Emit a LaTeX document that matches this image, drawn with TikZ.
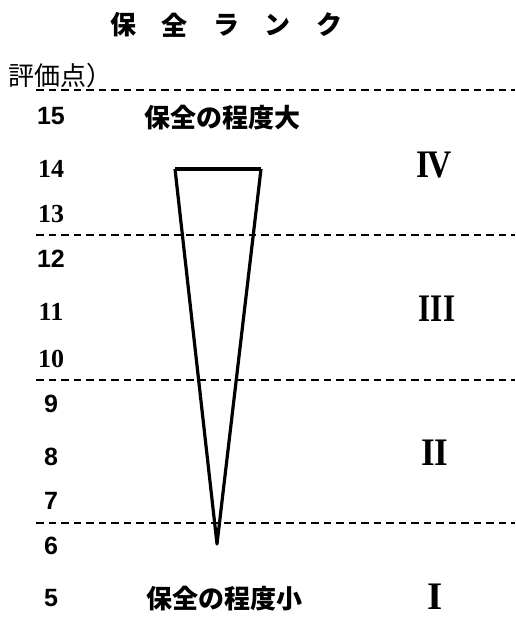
\documentclass[tikz,border=0pt]{standalone}
\usepackage{fontspec}
\setmainfont{Liberation Serif}
\newfontfamily\gothic{Liberation Sans}
\newfontfamily\cjk{Noto Sans CJK JP}
\usetikzlibrary{calc}
\tikzset{
  rankline/.style={draw=black,line width=2.2pt,dash pattern=on 7.5pt off 5pt},
  sansnum/.style={inner sep=0pt,font=\gothic\bfseries\fontsize{25}{28}\selectfont},
  serifnum/.style={inner sep=0pt,font=\bfseries\fontsize{26}{30}\selectfont},
  romannum/.style={inner sep=0pt,font=\bfseries\fontsize{39}{42}\selectfont},
  jtext/.style={inner sep=0pt,font=\cjk\bfseries\fontsize{26}{30}\selectfont}
}
\begin{document}
\begin{tikzpicture}[x=1pt,y=-1pt]
            \useasboundingbox (0,0) rectangle (515,619);
            % title
            \foreach \ch [count=\i from 0] in {保,全,ラ,ン,ク}
                \node[inner sep=0pt,font=\cjk\fontsize{26}{30}\selectfont\bfseries] (title\i) at (123+51.5*\i,25){\ch};
            \node[inner sep=0pt,anchor=west,font=\cjk\fontsize{26}{30}\selectfont] (unit) at (8,76){評価点）};
            % rank borders
            \draw[rankline] (36,90) -- (515,90);
            \draw[rankline] (36,235) -- (515,235);
            \draw[rankline] (36,380) -- (515,380);
            \draw[rankline] (36,523) -- (515,523);
            % score scale
            \foreach \v/\y/\s in {15/116/sansnum,14/169/serifnum,13/214/serifnum,12/259/sansnum,11/312/serifnum,10/359/serifnum,9/404/sansnum,8/457/sansnum,7/501/sansnum,6/546/sansnum,5/598/sansnum}
                \node[\s] (n\v) at (51,\y){\v};
            \node[jtext] (big) at (222,118){保全の程度大};
            \node[jtext] (small) at (224,599){保全の程度小};
            % wedge
            \coordinate (tl) at (175,169);
            \coordinate (tr) at (261,169);
            \coordinate (tip) at (217,544);
            \draw[line width=3.2pt,line join=round] (tl) -- (tip) -- (tr);
            \draw[line width=4.2pt] (tl) -- (tr);
            % ranks
            \node[romannum] (r4) at (434,165){\scalebox{0.86}[1]{I\kern-0.05em V}};
            \node[romannum] (r3) at (437,309){\scalebox{0.8}[1]{III}};
            \node[romannum] (r2) at (435,453){\scalebox{0.9}[1]{II}};
            \node[romannum] (r1) at (435,597){I};
        \end{tikzpicture}
\end{document}
